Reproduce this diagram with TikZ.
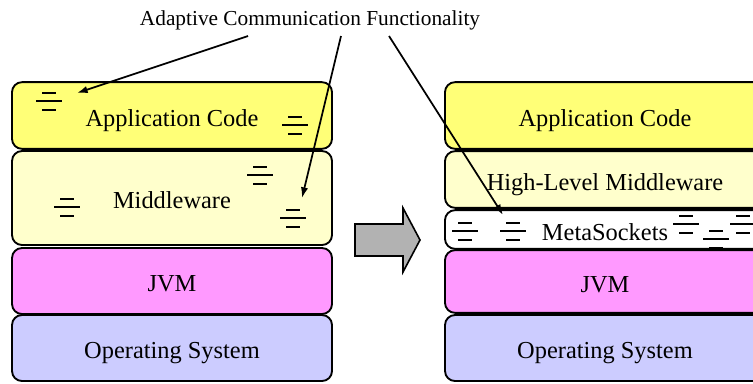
\documentclass[tikz,border=0pt]{standalone}
\usepackage{fontspec}
\setmainfont{Liberation Serif}
\usetikzlibrary{arrows.meta}
\definecolor{appyellow}{HTML}{FFFF77}
\definecolor{mwyellow}{HTML}{FFFFCC}
\definecolor{jvmpink}{HTML}{FF99FF}
\definecolor{oslilac}{HTML}{CCCCFF}

\begin{document}
\begin{tikzpicture}[
  x=0.75pt, y=-0.75pt,
  layer/.style={rectangle, rounded corners=7.5pt, draw=black, line width=1.4pt,
                minimum width=240pt, inner sep=0pt, text height=16pt, text depth=0pt,
                font=\fontsize{18.3}{20}\selectfont},
  icon/.style={line width=1.5pt},
  ptr/.style={-{Latex[length=8pt,width=5.5pt]}, line width=1.3pt},
  acf/.pic={\draw[icon] (-7,-8.5) -- (7,-8.5) (-13,0) -- (13,0) (-7,8.5) -- (7,8.5);}
]
\useasboundingbox (0,0) rectangle (753,383);
\clip (0,0) rectangle (753,383);

\node[font=\fontsize{16}{18}\selectfont] (title) at (310,20)
  {Adaptive Communication Functionality};

% before: plain stack
\node[layer, fill=appyellow, minimum height=50pt]   (app) at (172,115.5) {Application Code};
\node[layer, fill=mwyellow,  minimum height=70.5pt] (mw)  at (172,198)   {Middleware};
\node[layer, fill=jvmpink,   minimum height=49.5pt] (jvm) at (172,281)   {JVM};
\node[layer, fill=oslilac,   minimum height=49.5pt] (os)  at (172,348)   {Operating System};

% after: with MetaSockets
\node[layer, fill=appyellow, minimum height=50pt]   (rapp) at (605,115.5) {Application Code};
\node[layer, fill=mwyellow,  minimum height=42.5pt] (hlm)  at (605,179.5) {High-Level Middleware};
\node[layer, fill=white,     minimum height=29pt]   (ms)   at (605,229.5) {MetaSockets};
\node[layer, fill=jvmpink,   minimum height=47pt]   (rjvm) at (605,281.5) {JVM};
\node[layer, fill=oslilac,   minimum height=49.5pt] (ros)  at (605,348)   {Operating System};

% transition arrow
\draw[line width=1.2pt, fill=gray!60] (355,224) -- (403,224) -- (403,208) -- (420,240)
  -- (403,272) -- (403,256) -- (355,256) -- cycle;

% communication pieces
\pic at (49,101)  {acf};
\pic at (295,125) {acf};
\pic at (260,175) {acf};
\pic at (67,207)  {acf};
\pic at (293,218) {acf};
\pic at (465,231) {acf};
\pic at (513,231) {acf};
\pic at (686,224) {acf};
\pic at (716,239) {acf};
\pic at (743,224) {acf};

\coordinate (t1) at (248,36);
\coordinate (t2) at (341,36);
\coordinate (t3) at (389,36);
\coordinate (c1) at (77,93);
\coordinate (c2) at (302,198);
\coordinate (c3) at (503,215);
\foreach \a/\b in {t1/c1, t2/c2, t3/c3}
  \draw[ptr] (\a) -- (\b);
\end{tikzpicture}
\end{document}
